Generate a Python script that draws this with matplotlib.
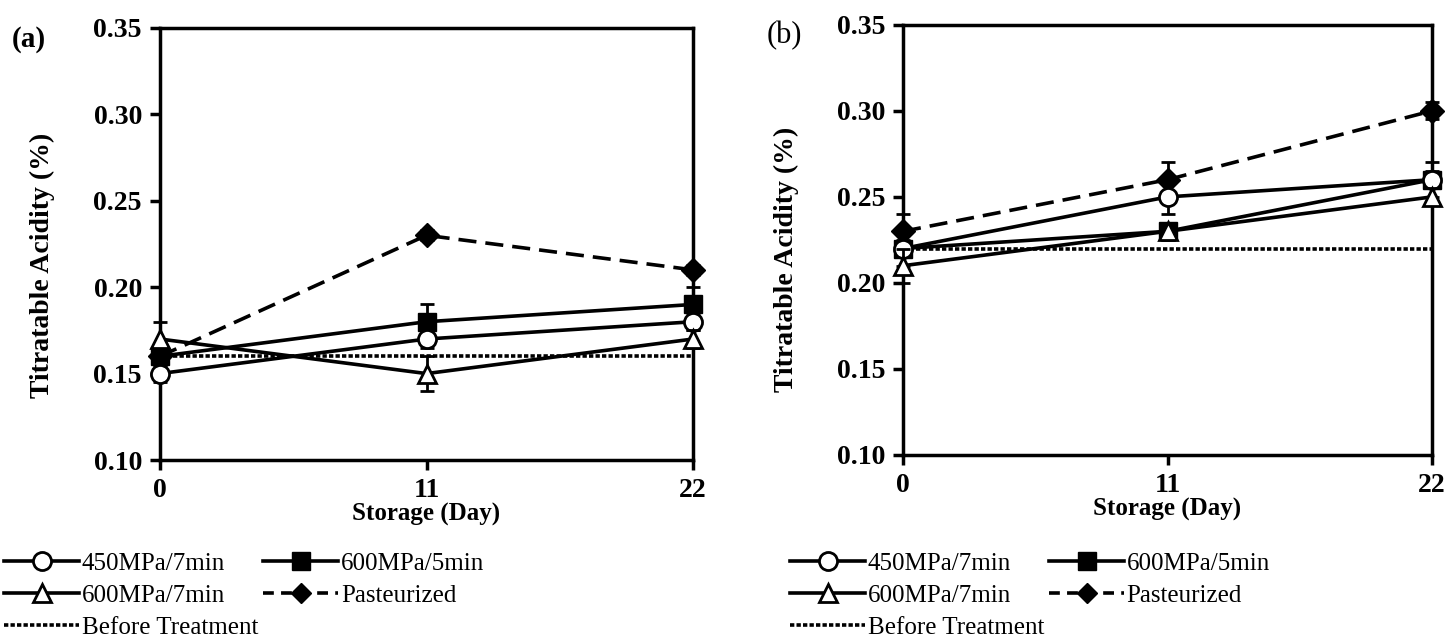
import matplotlib
matplotlib.use("Agg")
import matplotlib.pyplot as plt
from matplotlib.lines import Line2D

days = [0, 11, 22]
y_ticks = [0.10, 0.15, 0.20, 0.25, 0.30, 0.35]
series_names = ["450MPa/7min", "600MPa/5min", "600MPa/7min", "Pasteurized", "Before Treatment"]

# Panel (a)
a_450_7 = [0.15, 0.17, 0.18]
a_600_5 = [0.16, 0.18, 0.19]
a_600_7 = [0.17, 0.15, 0.17]
a_past = [0.16, 0.23, 0.21]
a_before = [0.16, 0.16, 0.16]
a_err_450_7 = [0.005, 0.005, 0.005]
a_err_600_5 = [0.005, 0.01, 0.01]
a_err_600_7 = [0.01, 0.01, 0.005]
a_err_past = [0.003, 0.003, 0.003]

# Panel (b)
b_450_7 = [0.22, 0.25, 0.26]
b_600_5 = [0.22, 0.23, 0.26]
b_600_7 = [0.21, 0.23, 0.25]
b_past = [0.23, 0.26, 0.30]
b_before = [0.22, 0.22, 0.22]
b_err_450_7 = [0.005, 0.01, 0.005]
b_err_600_5 = [0.01, 0.005, 0.01]
b_err_600_7 = [0.01, 0.005, 0.005]
b_err_past = [0.01, 0.01, 0.005]

plt.rcParams['font.family'] = ['Liberation Serif', 'DejaVu Serif']

fig = plt.figure(figsize=(14.5, 6.43), dpi=100)
ax_a = fig.add_axes([0.1103, 0.2846, 0.3677, 0.672])
ax_b = fig.add_axes([0.6228, 0.2924, 0.3648, 0.669])

LW = 2.6
MS = 13

def draw(ax, s450, s6005, s6007, past, before, e450, e6005, e6007, epast, ylab_xy):
    ax.plot(days, before, color='black', lw=LW, linestyle=(0, (1.2, 0.6)), zorder=2, clip_on=False)
    ax.errorbar(days, past, yerr=epast, color='black', lw=LW, linestyle=(0, (5, 2.5)),
                marker='D', ms=MS - 1, mfc='black', mec='black', capsize=5, capthick=2, elinewidth=2,
                zorder=3, clip_on=False)
    ax.errorbar(days, s6005, yerr=e6005, color='black', lw=LW, marker='s', ms=MS, mfc='black',
                mec='black', capsize=5, capthick=2, elinewidth=2, zorder=4, clip_on=False)
    ax.errorbar(days, s450, yerr=e450, color='black', lw=LW, marker='o', ms=MS, mfc='white',
                mec='black', mew=2, capsize=5, capthick=2, elinewidth=2, zorder=5, clip_on=False)
    ax.errorbar(days, s6007, yerr=e6007, color='black', lw=LW, marker='^', ms=MS, mfc='white',
                mec='black', mew=2, capsize=5, capthick=2, elinewidth=2, zorder=6, clip_on=False)
    ax.set_xlim(0, 22)
    ax.set_ylim(0.10, 0.35)
    ax.set_xticks(days)
    ax.set_xticklabels([str(d) for d in days])
    ax.set_yticks(y_ticks)
    ax.set_yticklabels([f"{v:.2f}" for v in y_ticks])
    for sp in ax.spines.values():
        sp.set_linewidth(2.5)
    ax.tick_params(axis='both', direction='out', length=7, width=2.5, labelsize=20, pad=6)
    for lab in ax.get_xticklabels() + ax.get_yticklabels():
        lab.set_fontweight('bold')
    ax.set_ylabel("Titratable Acidity (%)", fontsize=20, fontweight='bold')
    ax.yaxis.set_label_coords(*ylab_xy)
    ax.set_xlabel("Storage (Day)", fontsize=18, fontweight='bold', labelpad=0)

draw(ax_a, a_450_7, a_600_5, a_600_7, a_past, a_before,
     a_err_450_7, a_err_600_5, a_err_600_7, a_err_past, (-0.196, 0.45))
draw(ax_b, b_450_7, b_600_5, b_600_7, b_past, b_before,
     b_err_450_7, b_err_600_5, b_err_600_7, b_err_past, (-0.197, 0.455))

fig.text(0.008, 0.938, "(a)", fontsize=21, fontweight='bold', va='center')
fig.text(0.529, 0.945, "(b)", fontsize=22, va='center')

def handles():
    h450 = Line2D([], [], color='black', lw=LW, marker='o', ms=MS, mfc='white', mec='black', mew=2)
    h6005 = Line2D([], [], color='black', lw=LW, marker='s', ms=MS, mfc='black', mec='black')
    h6007 = Line2D([], [], color='black', lw=LW, marker='^', ms=MS, mfc='white', mec='black', mew=2)
    hpast = Line2D([], [], color='black', lw=LW, linestyle=(0, (3, 2)), marker='D', ms=MS - 3,
                   mfc='black', mec='black')
    hbef = Line2D([], [], color='black', lw=LW, linestyle=(0, (1.2, 0.6)))
    return [h450, h6007, hbef, h6005, hpast], [series_names[0], series_names[2], series_names[4],
                                              series_names[1], series_names[3]]

for x0 in (0.003, 0.545):
    h, l = handles()
    fig.legend(h, l, loc='upper left', bbox_to_anchor=(x0, 0.1415), ncol=2, frameon=False,
               fontsize=18, handlelength=3.0, handletextpad=0.1, columnspacing=0.2,
               labelspacing=0.38, borderaxespad=0, borderpad=0)

fig.savefig("out.png", dpi=100, facecolor='white')
